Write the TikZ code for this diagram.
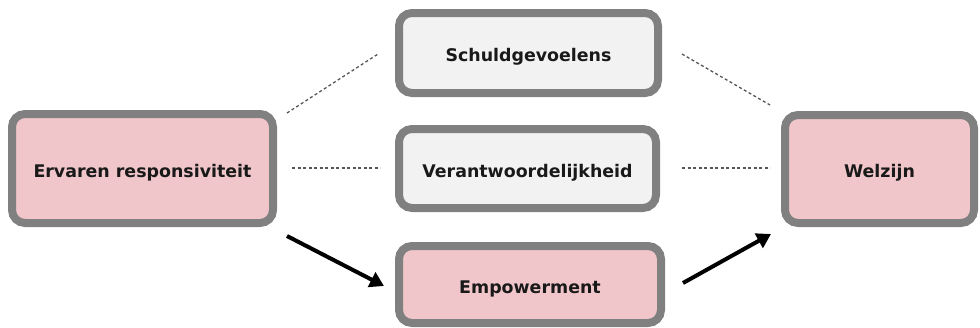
\documentclass[tikz,border=0pt]{standalone}
\usepackage{fontspec}
\setmainfont{DejaVu Sans}
\usetikzlibrary{arrows.meta}
\definecolor{pinkfill}{HTML}{F0C6CA}
\definecolor{grayfill}{HTML}{F2F2F2}
\definecolor{boxborder}{HTML}{808080}
\definecolor{dashcol}{HTML}{555555}
\tikzset{
  box/.style={draw=boxborder, line width=8pt, rounded corners=13pt, inner sep=0pt,
    text height=17pt, text depth=0pt,
    font=\bfseries\fontsize{17.4}{19}\selectfont, text=black!90},
  pinkbox/.style={box, fill=pinkfill},
  graybox/.style={box, fill=grayfill},
  dashline/.style={draw=dashcol, line width=1.3pt, dash pattern=on 3pt off 2.5pt},
  bigarrow/.style={line width=4pt, -{Triangle[length=14pt,width=16pt]}}
}
\begin{document}
\begin{tikzpicture}[x=1pt,y=-1pt]
\useasboundingbox (0,0) rectangle (980,327);
\node[pinkbox, minimum width=261pt, minimum height=109pt] (er) at (142.5,168.5) {Ervaren responsiviteit};
\node[graybox, minimum width=259pt, minimum height=80pt] (sg) at (528.5,53) {Schuldgevoelens};
\node[graybox, minimum width=257pt, minimum height=79pt] (vw) at (527.5,168.5) {Verantwoordelijkheid};
\node[pinkbox, minimum width=262pt, minimum height=77pt] (em) at (530,284.5) {Empowerment};
\node[pinkbox, minimum width=189pt, minimum height=108pt] (wz) at (879.5,169) {Welzijn};
\coordinate (a1) at (287,113);
\coordinate (a2) at (378,54);
\coordinate (b1) at (292,168);
\coordinate (b2) at (380,168);
\coordinate (c1) at (682,168);
\coordinate (c2) at (770,168);
\coordinate (d1) at (682,54);
\coordinate (d2) at (770,105);
\draw[dashline] (a1) -- (a2);
\draw[dashline] (b1) -- (b2);
\draw[dashline] (c1) -- (c2);
\draw[dashline] (d1) -- (d2);
\coordinate (e1) at (287,236);
\coordinate (e2) at (384,286);
\coordinate (f1) at (683,283);
\coordinate (f2) at (771,234);
\draw[bigarrow] (e1) -- (e2);
\draw[bigarrow] (f1) -- (f2);
\end{tikzpicture}
\end{document}
